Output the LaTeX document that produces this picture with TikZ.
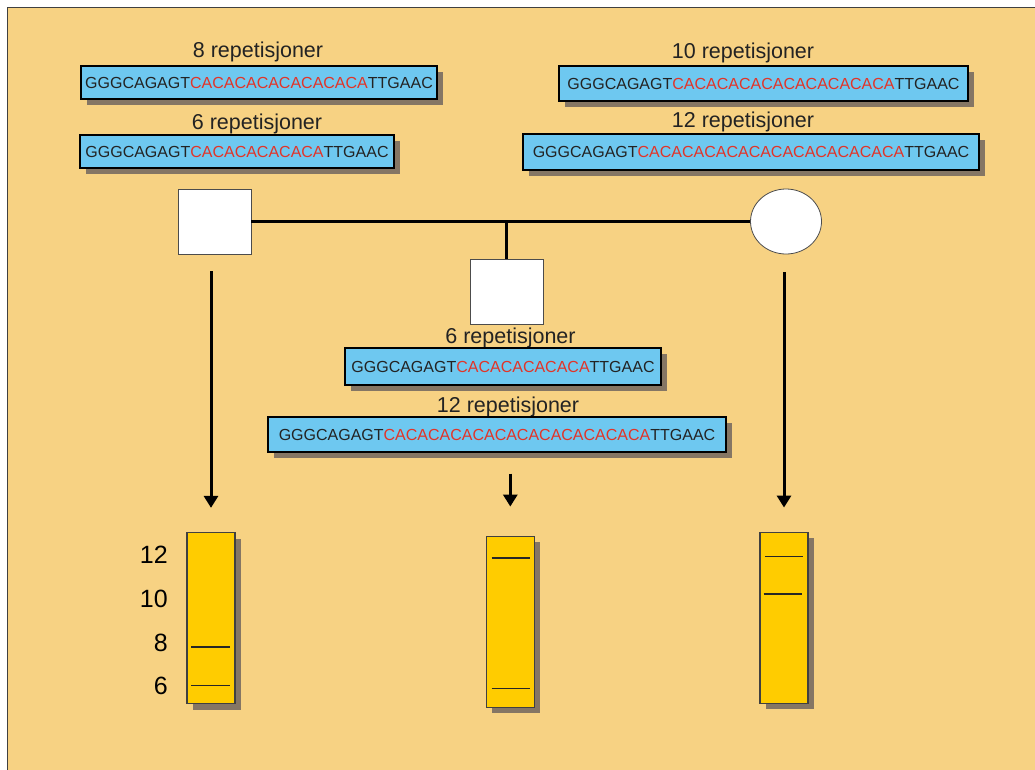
\documentclass[tikz,border=0pt]{standalone}
\usepackage{fontspec}
\setmainfont{Liberation Sans}
\usetikzlibrary{arrows.meta, positioning, shadows, shapes.geometric}
\definecolor{bgorange}{RGB}{247,210,131}
\definecolor{seqblue}{RGB}{110,200,240}
\definecolor{seqred}{RGB}{226,52,40}
\definecolor{gelyellow}{RGB}{255,204,0}
\definecolor{shadowgray}{RGB}{133,118,100}
\definecolor{textgray}{RGB}{35,35,35}

\tikzset{
  seqbox/.style={draw=black, line width=1.4pt, fill=seqblue, inner sep=0pt, text=textgray,
    font=\fontsize{16}{18}\selectfont,
    drop shadow={shadow xshift=6pt, shadow yshift=-6pt, fill=shadowgray, opacity=1}},
  replabel/.style={anchor=base, inner sep=0pt, text=textgray, font=\fontsize{21.5}{24}\selectfont},
  male/.style={draw=black!70, line width=0.8pt, fill=white, minimum width=73pt, minimum height=65pt},
  female/.style={ellipse, draw=black!70, line width=0.8pt, fill=white, minimum width=71pt, minimum height=65pt},
  gelbar/.style={draw=black!75, line width=1.3pt, fill=gelyellow, inner sep=0pt,
    minimum width=48pt, minimum height=171pt,
    drop shadow={shadow xshift=6pt, shadow yshift=-6pt, fill=shadowgray, opacity=1}},
  band/.style={line width=1.6pt, black!85},
  gelnum/.style={anchor=base east, inner sep=0pt, font=\fontsize{25}{28}\selectfont},
  pedline/.style={line width=3pt},
  arr/.style={line width=3pt, -{Triangle[width=14pt, length=12pt]}}
}

\begin{document}
\begin{tikzpicture}[x=1pt, y=-1pt]

  \useasboundingbox (0, 0) rectangle (1035, 769);
  \fill[white] (0, 0) rectangle (1035, 769);
  \fill[bgorange] (7.5, 7.5) rectangle (1040, 775);
  \draw[line width=1.6pt, black!75] (7.5, 775) -- (7.5, 7.5) -- (1040, 7.5);

  \node[replabel] (labf1) at (258, 57.3) {8 repetisjoner};
  \node[seqbox, minimum width=356pt, minimum height=33pt] (seqf1) at (259, 82.5)
    {GGGCAGAGT\textcolor{seqred}{CACACACACACACACA}TTGAAC};
  \node[replabel] (labf2) at (257, 129) {6 repetisjoner};
  \node[seqbox, minimum width=314pt, minimum height=33pt] (seqf2) at (237, 151.5)
    {GGGCAGAGT\textcolor{seqred}{CACACACACACA}TTGAAC};

  \node[replabel] (labm1) at (743, 58) {10 repetisjoner};
  \node[seqbox, minimum width=409pt, minimum height=35pt] (seqm1) at (763.5, 83.5)
    {GGGCAGAGT\textcolor{seqred}{CACACACACACACACACACA}TTGAAC};
  \node[replabel] (labm2) at (743, 127) {12 repetisjoner};
  \node[seqbox, minimum width=456pt, minimum height=36pt] (seqm2) at (751, 152)
    {GGGCAGAGT\textcolor{seqred}{CACACACACACACACACACACACA}TTGAAC};

  \node[male] (father) at (214.5, 221.5) {};
  \node[female] (mother) at (786, 221.5) {};
  \node[male] (child) at (506.5, 291.5) {};
  \draw[pedline] (father.east) -- (mother.west);
  \draw[pedline] (child.north |- father.east) -- (child.north);

  \node[replabel] (labc1) at (510.5, 343) {6 repetisjoner};
  \node[seqbox, minimum width=316pt, minimum height=37pt] (seqc1) at (503, 366.5)
    {GGGCAGAGT\textcolor{seqred}{CACACACACACA}TTGAAC};
  \node[replabel] (labc2) at (508, 412) {12 repetisjoner};
  \node[seqbox, minimum width=458pt, minimum height=35pt] (seqc2) at (497, 434.5)
    {GGGCAGAGT\textcolor{seqred}{CACACACACACACACACACACACA}TTGAAC};

  \node[gelbar] (gelf) at (211, 618) {};
  \node[gelbar] (gelc) at (510.3, 621.7) {};
  \node[gelbar] (gelm) at (784, 617.7) {};

  \draw[arr] ([yshift=-17pt]father.south -| gelf.north) -- ([yshift=24pt]gelf.north);
  \draw[arr] ([yshift=-21pt]seqc2.south -| gelc.north) -- ([yshift=29pt]gelc.north);
  \draw[arr] ([yshift=-18pt]mother.south -| gelm.north) -- ([yshift=24pt]gelm.north);

  \node[gelnum] (n12) at (168, 563.3) {12};
  \node[gelnum] (n10) at (168, 607) {10};
  \node[gelnum] (n8) at (168, 651.7) {8};
  \node[gelnum] (n6) at (168, 694) {6};

  \draw[band] (191, 646.7) -- (230, 646.7);
  \draw[band] (191, 685.3) -- (230, 685.3);
  \draw[band] (491.5, 557.7) -- (530, 557.7);
  \draw[band] (491.5, 688.3) -- (530, 688.3);
  \draw[band] (765, 556.3) -- (803, 556.3);
  \draw[band] (763.5, 594) -- (801.5, 594);

\end{tikzpicture}
\end{document}
